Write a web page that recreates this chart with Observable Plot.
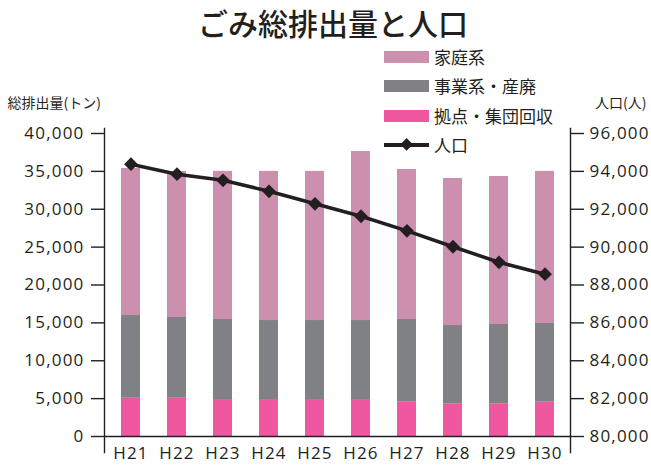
<!DOCTYPE html>
<html>
<head>
<meta charset="utf-8">
<script src="https://cdn.jsdelivr.net/npm/d3@7"></script>
<script src="https://cdn.jsdelivr.net/npm/@observablehq/plot@0.6"></script>
<style>
  html, body { margin: 0; padding: 0; background: #fff; }
  #wrap { position: relative; width: 651px; height: 468px; font-family: "Noto Sans CJK JP", sans-serif; color: #231f20; }
  #title { position: absolute; left: 30px; top: 0px; width: 606px; text-align: center; font-size: 30px; line-height: 44px; font-weight: 500; white-space: nowrap; }
  #chart { position: absolute; left: 0; top: 95px; }
  .lg { position: absolute; left: 384px; }
  .lgsw { width: 45px; height: 12px; }
  .lgtx { position: absolute; left: 434px; font-size: 17px; line-height: 24px; white-space: nowrap; }
  g[aria-label="y-axis label"] { font-size: 14px !important; font-family: "Noto Sans CJK JP", sans-serif !important; }
  g[aria-label="y-axis tick label"] text, g[aria-label="x-axis tick label"] text { letter-spacing: 1.2px; }
</style>
</head>
<body>
<div id="wrap">
  <div id="title">ごみ総排出量と人口</div>
  <div id="chart"></div>
  <div id="legend"></div>
</div>
<script>
// ---- data ----
const years = ["H21", "H22", "H23", "H24", "H25", "H26", "H27", "H28", "H29", "H30"];
const seriesNames = ["拠点・集団回収", "事業系・産廃", "家庭系"];
const kyotenValues = [5050, 5050, 4880, 4880, 4880, 4880, 4530, 4270, 4270, 4530];
const jigyouValues = [10920, 10660, 10570, 10430, 10430, 10430, 10920, 10380, 10520, 10390];
const kateiValues = [19410, 19270, 19550, 19690, 19690, 22310, 19800, 19410, 19530, 20080];
const populationValues = [94380, 93850, 93530, 92950, 92290, 91630, 90860, 90020, 89200, 88570];
const leftTicks = [0, 5000, 10000, 15000, 20000, 25000, 30000, 35000, 40000];
const rightTicks = [80000, 82000, 84000, 86000, 88000, 90000, 92000, 94000, 96000];
const seriesColors = ["#ef58a1", "#808185", "#cc8fae"];
const lineColor = "#231f20";

// ---- tables ----
const seriesValues = [kyotenValues, jigyouValues, kateiValues];
const bars = [];
seriesNames.forEach((s, si) => years.forEach((y, i) => bars.push({year: y, series: s, value: seriesValues[si][i]})));
const pop = years.map((y, i) => ({year: y, pop: populationValues[i]}));

// right-axis mapping onto left scale
const popMin = 80000, popMax = 96000, leftMax = 40000;
const toY = p => (p - popMin) * leftMax / (popMax - popMin);
const fromY = v => v * (popMax - popMin) / leftMax + popMin;
const fmt = d3.format(",");

const axisFont = "Open Sans, sans-serif";

const plot = Plot.plot({
  width: 651,
  height: 373,
  marginTop: 38,
  marginBottom: 32,
  marginLeft: 104,
  marginRight: 81,
  style: {fontFamily: axisFont, color: "#231f20", background: "transparent", overflow: "visible"},
  x: {domain: years, paddingInner: 0.59, paddingOuter: 0.3, label: null},
  y: {domain: [0, leftMax], label: null},
  color: {domain: seriesNames, range: seriesColors},
  marks: [
    Plot.barY(bars, {x: "year", y: "value", fill: "series", order: seriesNames}),
    Plot.ruleY([0], {stroke: lineColor, strokeWidth: 1.4}),
    Plot.frame({anchor: "left", insetTop: -5, insetBottom: -16, stroke: lineColor, strokeWidth: 1.4}),
    Plot.frame({anchor: "right", insetTop: -5, insetBottom: -16, stroke: lineColor, strokeWidth: 1.4}),
    Plot.axisY({anchor: "left", ticks: leftTicks, tickFormat: fmt, tickSize: 13, tickPadding: 7,
      fontSize: 17, strokeWidth: 1.4, label: "総排出量(トン)", labelAnchor: "top", labelOffset: 97, labelArrow: "none"}),
    Plot.axisY({anchor: "right", ticks: rightTicks.map(toY), tickFormat: v => fmt(Math.round(fromY(v))), tickSize: 13, tickPadding: 6,
      fontSize: 17, strokeWidth: 1.4, label: "人口(人)", labelAnchor: "top", labelOffset: 76, labelArrow: "none"}),
    Plot.axisX({tickSize: 0, tickPadding: 10, fontSize: 17, label: null}),
    Plot.line(pop, {x: "year", y: d => toY(d.pop), stroke: lineColor, strokeWidth: 3.5}),
    Plot.dot(pop, {x: "year", y: d => toY(d.pop), symbol: "diamond2", r: 6.2, fill: lineColor, stroke: "none"})
  ]
});
document.getElementById("chart").appendChild(plot);

// ---- legend (HTML overlay) ----
const legend = document.getElementById("legend");
const legendItems = [
  {name: "家庭系", color: seriesColors[2], type: "bar"},
  {name: "事業系・産廃", color: seriesColors[1], type: "bar"},
  {name: "拠点・集団回収", color: seriesColors[0], type: "bar"},
  {name: "人口", color: lineColor, type: "line"}
];
const rowCenters = [57, 86, 115.5, 145];
legendItems.forEach((it, i) => {
  const cy = rowCenters[i];
  if (it.type === "bar") {
    const sw = document.createElement("div");
    sw.className = "lg lgsw";
    sw.style.top = (cy - 6) + "px";
    sw.style.background = it.color;
    legend.appendChild(sw);
  } else {
    const ln = document.createElement("div");
    ln.className = "lg";
    ln.style.top = (cy - 1.75) + "px";
    ln.style.width = "45px";
    ln.style.height = "3.5px";
    ln.style.background = it.color;
    legend.appendChild(ln);
    const dm = document.createElement("div");
    dm.style.position = "absolute";
    dm.style.left = (406.5 - 4.6) + "px";
    dm.style.top = (cy - 4.6) + "px";
    dm.style.width = "9.2px";
    dm.style.height = "9.2px";
    dm.style.background = it.color;
    dm.style.transform = "rotate(45deg)";
    legend.appendChild(dm);
  }
  const tx = document.createElement("div");
  tx.className = "lgtx";
  tx.style.top = (cy - 12) + "px";
  tx.textContent = it.name;
  legend.appendChild(tx);
});
</script>
</body>
</html>
